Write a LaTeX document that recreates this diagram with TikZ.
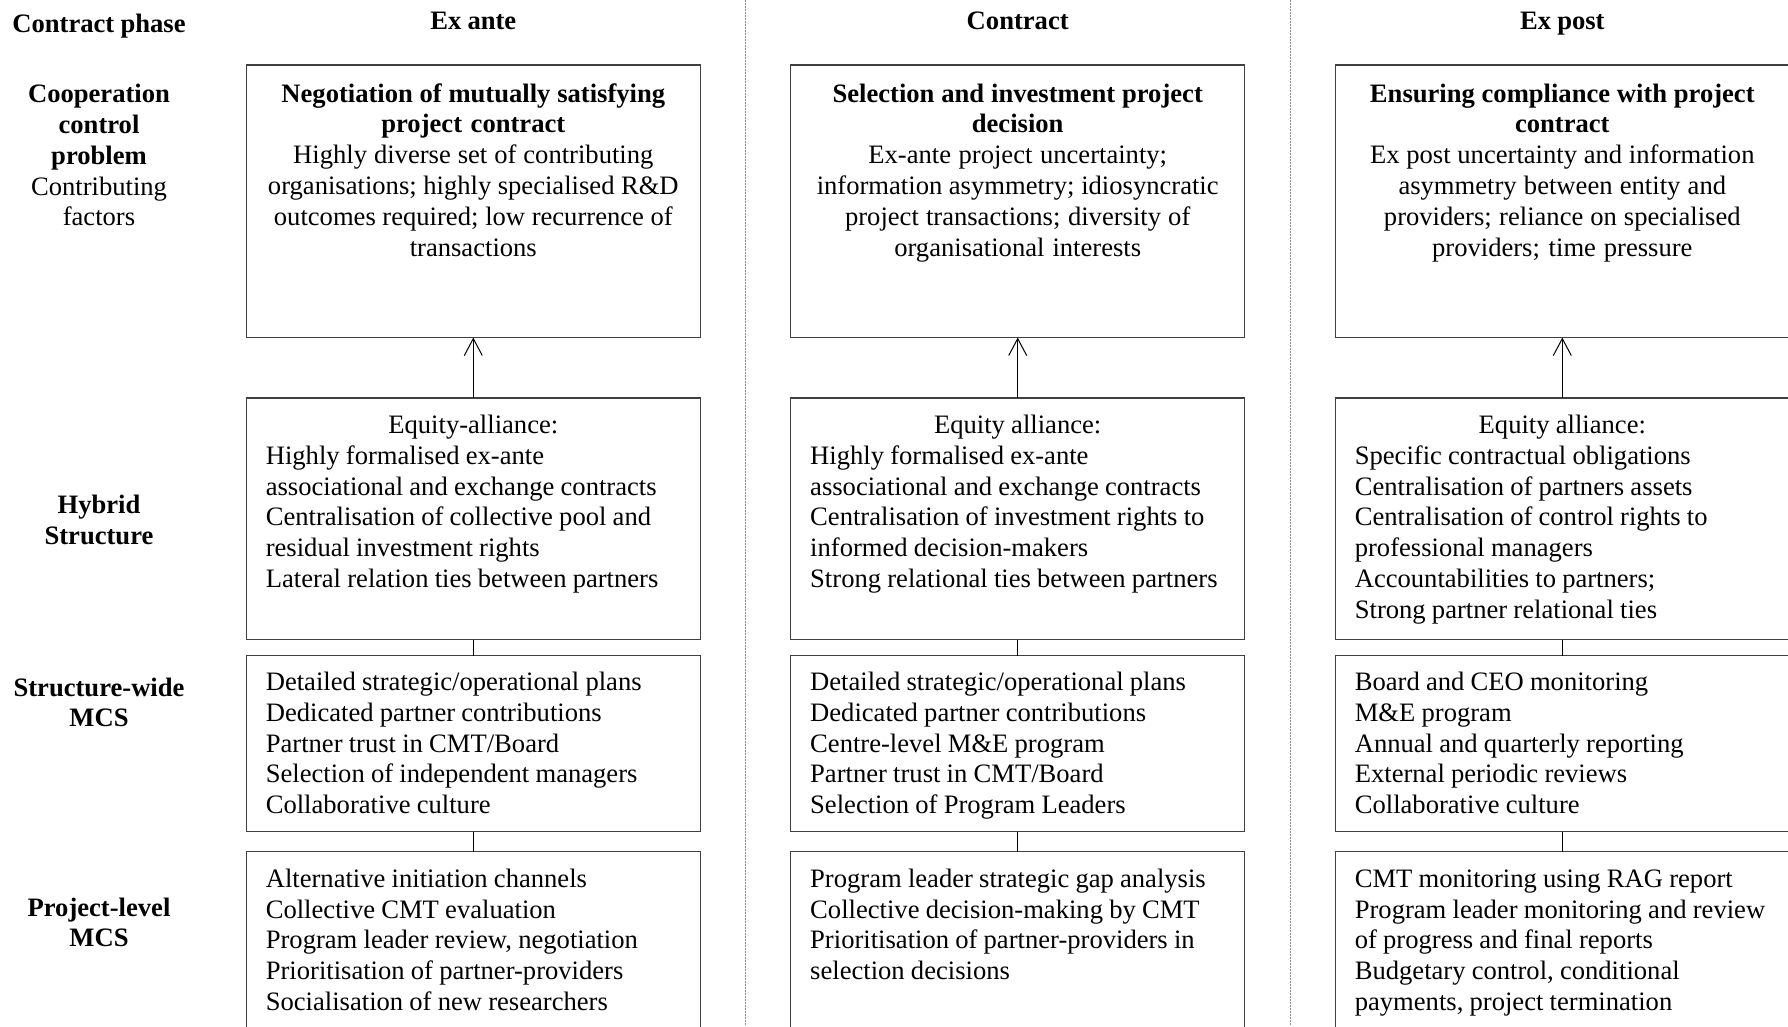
\documentclass[tikz,border=0pt]{standalone}
\usepackage{fontspec}
\setmainfont{Liberation Serif}
\usetikzlibrary{arrows.meta}
% fixes the height of the first line so every text block starts on a known baseline
\newcommand{\firststrut}{\rule{0pt}{22pt}}
\newcommand{\tightspaces}{\spaceskip=6.2pt plus 1pt minus 1pt\relax}
\begin{document}
\begin{tikzpicture}[x=1pt,y=-1pt,
  every node/.style={font=\fontsize{26.6}{30.8}\selectfont, inner sep=0pt, outer sep=0pt,
    execute at begin node=\tightspaces},
  cell/.style={draw=black!75, line width=1.2pt, minimum width=454pt, anchor=north west},
  ctext/.style={anchor=north, text width=440pt, align=center},
  ltext/.style={anchor=north west, text width=440pt, align=left},
  rowlabel/.style={anchor=north, align=center},
  phase/.style={anchor=base, font=\fontsize{26.6}{30.8}\selectfont\bfseries},
  link/.style={draw=black, line width=1pt},
  uplink/.style={link, -{Straight Barb[length=17pt,width=18pt]}},
  sep/.style={draw=black!45, line width=1pt, dash pattern=on 1.5pt off 1.5pt}]
\useasboundingbox (0,0) rectangle (1788,1026);
\clip (0,0) rectangle (1788,1026);

% column separators
\coordinate (s1t) at (745.8,0);  \coordinate (s1b) at (745.8,1026);
\coordinate (s2t) at (1290.8,0); \coordinate (s2b) at (1290.8,1026);
\draw[sep] (s1t) -- (s1b);
\draw[sep] (s2t) -- (s2b);

% header row
\node[phase] (hph) at (99,32.5) {Contract phase};
\node[phase] (hc1) at (473.3,29.5) {Ex ante};
\node[phase] (hc2) at (1017.7,29.5) {Contract};
\node[phase] (hc3) at (1562.3,29.5) {Ex post};

% row labels
\node[rowlabel] (l1) at (99,80.7) {\firststrut\textbf{Cooperation}\\\textbf{control}\\\textbf{problem}\\Contributing\\factors};
\node[rowlabel] (l2) at (99,491.7) {\firststrut\textbf{Hybrid}\\\textbf{Structure}};
\node[rowlabel] (l3) at (99,674) {\firststrut\textbf{Structure-wide}\\\textbf{MCS}};
\node[rowlabel] (l4) at (99,894) {\firststrut\textbf{Project-level}\\\textbf{MCS}};

% boxes: row 1 (cooperation control problem)
\node[cell, minimum height=272.5pt] (b11) at (246.3,65) {};
\node[cell, minimum height=272.5pt] (b12) at (790.7,65) {};
\node[cell, minimum height=272.5pt] (b13) at (1335.3,65) {};
% row 2 (hybrid structure)
\node[cell, minimum height=241.5pt] (b21) at (246.3,398) {};
\node[cell, minimum height=241.5pt] (b22) at (790.7,398) {};
\node[cell, minimum height=241.5pt] (b23) at (1335.3,398) {};
% row 3 (structure-wide MCS)
\node[cell, minimum height=176pt] (b31) at (246.3,655.5) {};
\node[cell, minimum height=176pt] (b32) at (790.7,655.5) {};
\node[cell, minimum height=176pt] (b33) at (1335.3,655.5) {};
% row 4 (project-level MCS)
\node[cell, minimum height=200pt] (b41) at (246.3,851.7) {};
\node[cell, minimum height=200pt] (b42) at (790.7,851.7) {};
\node[cell, minimum height=200pt] (b43) at (1335.3,851.7) {};

% row 1 texts
\node[ctext] (t11) at ([yshift=-15pt]b11.north) {\firststrut\textbf{Negotiation of mutually satisfying}\\\textbf{project contract}\\Highly diverse set of contributing\\organisations; highly specialised R\&D\\outcomes required; low recurrence of\\transactions};
\node[ctext] (t12) at ([yshift=-15pt]b12.north) {\firststrut\textbf{Selection and investment project}\\\textbf{decision}\\Ex-ante project uncertainty;\\information asymmetry; idiosyncratic\\project transactions; diversity of\\organisational interests};
\node[ctext] (t13) at ([yshift=-15pt]b13.north) {\firststrut\textbf{Ensuring compliance with project}\\\textbf{contract}\\Ex post uncertainty and information\\asymmetry between entity and\\providers; reliance on specialised\\providers; time pressure};

% row 2 texts
\node[ltext] (t21) at ([xshift=19.5pt,yshift=-13.5pt]b21.north west) {\firststrut\makebox[415pt]{Equity-alliance:}\\Highly formalised ex-ante\\associational and exchange contracts\\Centralisation of collective pool and\\residual investment rights\\Lateral relation ties between partners};
\node[ltext] (t22) at ([xshift=19.5pt,yshift=-13.5pt]b22.north west) {\firststrut\makebox[415pt]{Equity alliance:}\\Highly formalised ex-ante\\associational and exchange contracts\\Centralisation of investment rights to\\informed decision-makers\\Strong relational ties between partners};
\node[ltext] (t23) at ([xshift=19.5pt,yshift=-13.5pt]b23.north west) {\firststrut\makebox[415pt]{Equity alliance:}\\Specific contractual obligations\\Centralisation of partners assets\\Centralisation of control rights to\\professional managers\\Accountabilities to partners;\\Strong partner relational ties};

% row 3 texts
\node[ltext] (t31) at ([xshift=19.5pt,yshift=-13pt]b31.north west) {\firststrut Detailed strategic/operational plans\\Dedicated partner contributions\\Partner trust in CMT/Board\\Selection of independent managers\\Collaborative culture};
\node[ltext] (t32) at ([xshift=19.5pt,yshift=-13pt]b32.north west) {\firststrut Detailed strategic/operational plans\\Dedicated partner contributions\\Centre-level M\&E program\\Partner trust in CMT/Board\\Selection of Program Leaders};
\node[ltext] (t33) at ([xshift=19.5pt,yshift=-13pt]b33.north west) {\firststrut Board and CEO monitoring\\M\&E program\\Annual and quarterly reporting\\External periodic reviews\\Collaborative culture};

% row 4 texts
\node[ltext] (t41) at ([xshift=19.5pt,yshift=-13.5pt]b41.north west) {\firststrut Alternative initiation channels\\Collective CMT evaluation\\Program leader review, negotiation\\Prioritisation of partner-providers\\Socialisation of new researchers};
\node[ltext] (t42) at ([xshift=19.5pt,yshift=-13.5pt]b42.north west) {\firststrut Program leader strategic gap analysis\\Collective decision-making by CMT\\Prioritisation of partner-providers in\\selection decisions};
\node[ltext] (t43) at ([xshift=19.5pt,yshift=-13.5pt]b43.north west) {\firststrut CMT monitoring using RAG report\\Program leader monitoring and review\\of progress and final reports\\Budgetary control, conditional\\payments, project termination};

% connectors
\foreach \c in {1,2,3}{
  \draw[uplink] (b2\c.north) -- (b1\c.south);
  \draw[link] (b2\c.south) -- (b3\c.north);
  \draw[link] (b3\c.south) -- (b4\c.north);
}
\end{tikzpicture}
\end{document}
